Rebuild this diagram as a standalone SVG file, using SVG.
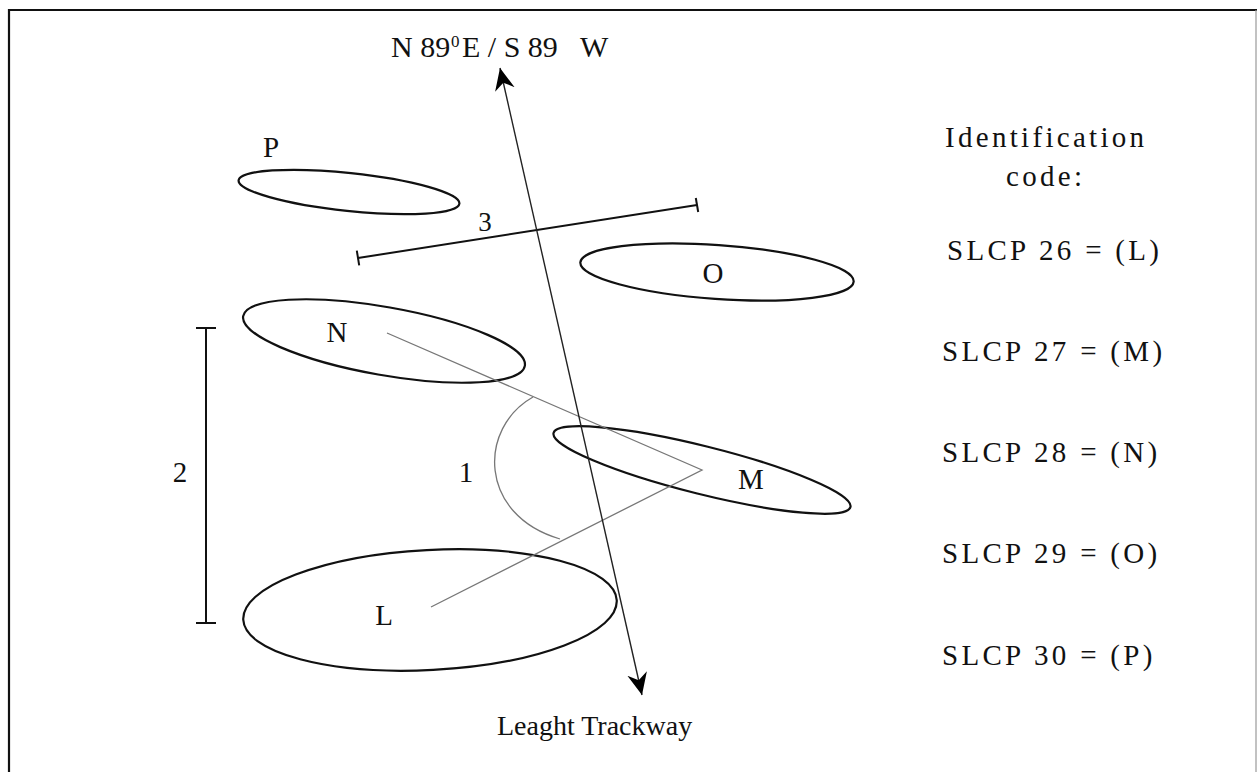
<svg xmlns="http://www.w3.org/2000/svg" width="1257" height="772" viewBox="0 0 1257 772">
  <style>
    text { font-family: "Liberation Serif", "Times New Roman", serif; fill: #111; }
    .lbl { font-size: 29px; text-anchor: middle; }
    .code { font-size: 29px; letter-spacing: 3.3px; }
    .trace { fill: none; stroke: #111; stroke-width: 2.2; }
    .bar { fill: none; stroke: #111; stroke-width: 2; }
    .guide { fill: none; stroke: #777; stroke-width: 1.3; }
    .axis { fill: none; stroke: #222; stroke-width: 1.4; }
  </style>
  <defs>
    <marker id="arrowhead" viewBox="-22 -11 24 22" refX="0" refY="0" markerWidth="24" markerHeight="22" markerUnits="userSpaceOnUse" orient="auto-start-reverse">
      <path d="M0,0 L-22,-10 L-15,0 L-22,10 Z" fill="#000"/>
    </marker>
  </defs>

  <rect width="1257" height="772" fill="#fff"/>

  <!-- frame -->
  <g id="frame">
    <path d="M9,790 V10 H1257" fill="none" stroke="#111" stroke-width="2.2"/>
    <line x1="1256" y1="10" x2="1256" y2="772" stroke="#999" stroke-width="1.2"/>
  </g>

  <!-- footprint outlines -->
  <g id="node-P">
    <ellipse cx="349" cy="192" rx="111" ry="19" transform="rotate(6 349 192)" class="trace"/>
    <text x="271" y="157" class="lbl">P</text>
  </g>
  <g id="node-O">
    <ellipse cx="717" cy="272" rx="137" ry="27" transform="rotate(4 717 272)" class="trace"/>
    <text x="713" y="283" class="lbl">O</text>
  </g>
  <g id="node-N">
    <ellipse cx="384" cy="341" rx="143" ry="34" transform="rotate(10 384 341)" class="trace"/>
    <text x="337" y="342" class="lbl">N</text>
  </g>
  <g id="node-M">
    <ellipse cx="702" cy="470" rx="153" ry="24" transform="rotate(14 702 470)" class="trace"/>
    <text x="751" y="489" class="lbl">M</text>
  </g>
  <g id="node-L">
    <ellipse cx="430" cy="610" rx="187" ry="60" transform="rotate(-3 430 610)" class="trace"/>
    <text x="384" y="625" class="lbl">L</text>
  </g>

  <!-- measurements and axis -->
  <g id="connectors">
    <!-- pace angle -->
    <polyline points="387,333 702,470 431,607" class="guide"/>
    <path d="M533,397 C478,428 478,515 560,539" class="guide"/>
    <text x="466" y="482" class="lbl">1</text>

    <!-- stride length -->
    <line x1="206" y1="328" x2="206" y2="623" class="bar"/>
    <line x1="196" y1="328" x2="216" y2="328" class="bar"/>
    <line x1="196" y1="623" x2="216" y2="623" class="bar"/>
    <text x="180" y="482" class="lbl">2</text>

    <!-- trackway width -->
    <line x1="358" y1="258" x2="697" y2="205" class="bar"/>
    <line x1="356.8" y1="250.6" x2="359.2" y2="265.4" class="bar"/>
    <line x1="695.8" y1="198" x2="698.2" y2="212" class="bar"/>
    <text x="485" y="231" class="lbl" style="font-size:27px">3</text>

    <!-- trackway orientation -->
    <line x1="500" y1="68" x2="642" y2="695" class="axis" marker-start="url(#arrowhead)" marker-end="url(#arrowhead)"/>
  </g>

  <g id="axis-labels">
    <text y="57" style="font-size:30px">
      <tspan x="391">N 89</tspan><tspan x="451" dy="-10" style="font-size:17px">0</tspan><tspan x="462" dy="10">E / S 89</tspan><tspan x="580">W</tspan>
    </text>
    <text x="497" y="735" style="font-size:28px">Leaght Trackway</text>
  </g>

  <!-- legend -->
  <g id="legend">
    <text x="945" y="147" class="code">Identification</text>
    <text x="1006" y="186" class="code">code:</text>
    <text x="947" y="260" class="code">SLCP 26 = (L)</text>
    <text x="942" y="361" class="code">SLCP 27 = (M)</text>
    <text x="942" y="462" class="code">SLCP 28 = (N)</text>
    <text x="942" y="563" class="code">SLCP 29 = (O)</text>
    <text x="942" y="665" class="code">SLCP 30 = (P)</text>
  </g>
</svg>
